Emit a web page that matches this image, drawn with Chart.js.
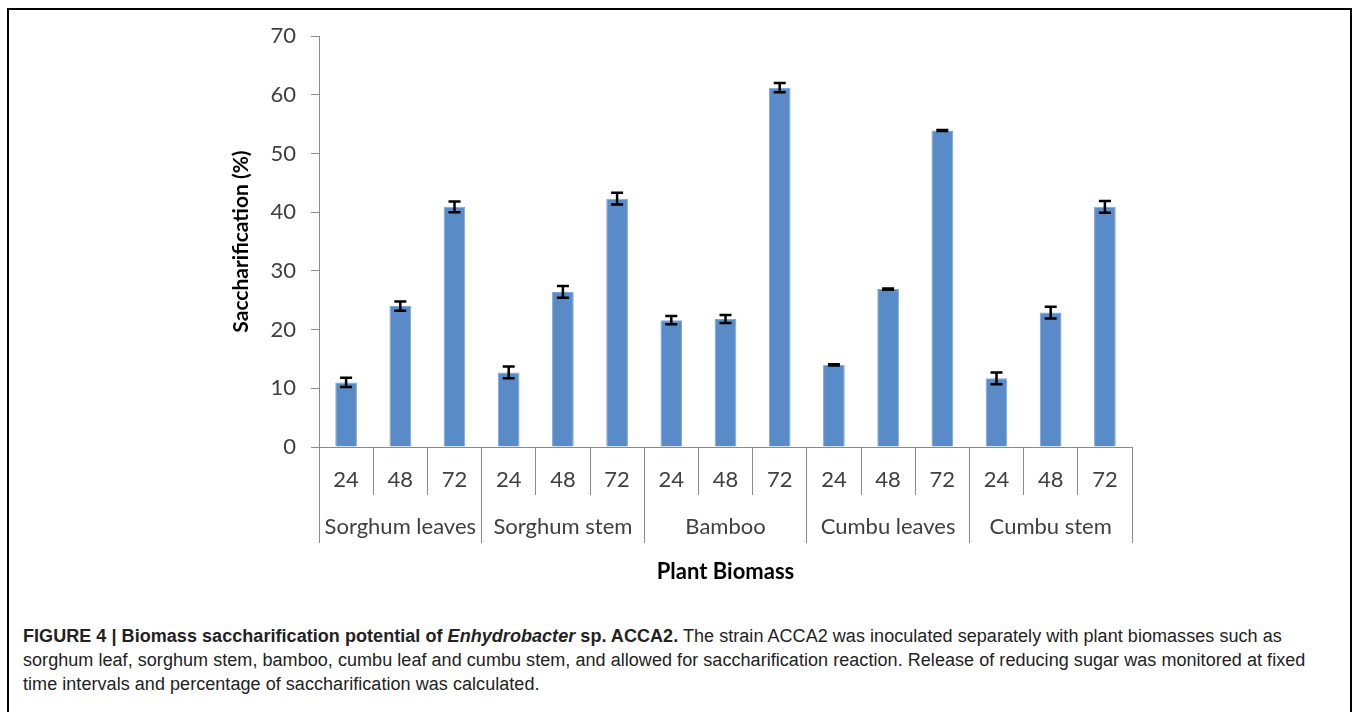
<!DOCTYPE html>
<html>
<head>
<meta charset="utf-8">
<script src="https://cdn.jsdelivr.net/npm/chart.js@4.4.0/dist/chart.umd.min.js"></script>
<style>
  html, body { margin: 0; padding: 0; background: #fff; width: 1358px; height: 712px; overflow: hidden; }
  #frame { position: absolute; left: 7px; top: 8px; width: 1345px; height: 720px; border: 2px solid #000; box-sizing: border-box; }
  #wrap { position: absolute; left: 0; top: 0; width: 1358px; height: 600px; }
  #caption { position: absolute; left: 23px; top: 624px; font-family: "Liberation Sans", Arial, sans-serif; font-size: 18px; letter-spacing: 0.05px; line-height: 24px; color: #222; white-space: nowrap; }
</style>
</head>
<body>
<div id="frame"></div>
<div id="wrap"><canvas id="biomassChart"></canvas></div>
<div id="caption"><b>FIGURE 4 | Biomass saccharification potential of <i>Enhydrobacter</i> sp. ACCA2.</b> The strain ACCA2 was inoculated separately with plant biomasses such as<br>sorghum leaf, sorghum stem, bamboo, cumbu leaf and cumbu stem, and allowed for saccharification reaction. Release of reducing sugar was monitored at fixed<br>time intervals and percentage of saccharification was calculated.</div>
<script>
const hours = ['24', '48', '72', '24', '48', '72', '24', '48', '72', '24', '48', '72', '24', '48', '72'];
const biomass = ['Sorghum leaves', 'Sorghum stem', 'Bamboo', 'Cumbu leaves', 'Cumbu stem'];
const saccharification = [11.0, 24.0, 40.9, 12.7, 26.4, 42.3, 21.6, 21.8, 61.2, 14.0, 26.9, 53.9, 11.7, 22.9, 40.9];
const errors = [0.8, 0.8, 0.9, 1.0, 1.0, 1.0, 0.7, 0.7, 0.8, 0.1, 0.1, 0.1, 1.0, 1.0, 1.0];
const yTicks = [0, 10, 20, 30, 40, 50, 60, 70];

const axisGray = '#8a8a8a';
const chartFont = 'Lato, "Open Sans", sans-serif';

// error bars drawn from the y scale
const errorBars = {
  id: 'errorBars',
  afterDatasetsDraw(chart) {
    const ctx = chart.ctx;
    const y = chart.scales.y;
    const meta = chart.getDatasetMeta(0);
    ctx.save();
    ctx.strokeStyle = '#000';
    ctx.lineWidth = 2.5;
    meta.data.forEach((bar, i) => {
      const top = y.getPixelForValue(saccharification[i] + errors[i]);
      const bot = y.getPixelForValue(saccharification[i] - errors[i]);
      const cap = 6;
      ctx.beginPath();
      ctx.moveTo(bar.x, top); ctx.lineTo(bar.x, bot);
      ctx.moveTo(bar.x - cap, top); ctx.lineTo(bar.x + cap, top);
      ctx.moveTo(bar.x - cap, bot); ctx.lineTo(bar.x + cap, bot);
      ctx.stroke();
    });
    ctx.restore();
  }
};

const biomassChart = new Chart(document.getElementById('biomassChart').getContext('2d'), {
  type: 'bar',
  data: {
    labels: hours,
    datasets: [{
      label: 'Saccharification (%)',
      data: saccharification,
      backgroundColor: '#588bc8',
      borderColor: '#7ea5d6',
      borderWidth: 1,
      barPercentage: 0.4,
      categoryPercentage: 1.0
    }]
  },
  options: {
    responsive: true,
    maintainAspectRatio: false,
    animation: false,
    layout: { padding: { left: 219, right: 226, top: 36, bottom: 0 } },
    plugins: { legend: { display: false }, tooltip: { enabled: false } },
    scales: {
      y: {
        min: 0,
        max: 70,
        afterBuildTicks(axis) { axis.ticks = yTicks.map(v => ({ value: v })); },
        afterFit(axis) { axis.width = 100; },
        ticks: { font: { family: chartFont, size: 22 }, color: '#404040', padding: 15 },
        grid: { drawOnChartArea: false, tickLength: 8, color: axisGray },
        border: { color: axisGray },
        title: {
          display: true,
          text: 'Saccharification (%)',
          font: { family: chartFont, size: 21, weight: 'bold' },
          color: '#000',
          padding: { top: 10, bottom: 0 }
        }
      },
      x: {
        afterFit(axis) { axis.height = 48; },
        ticks: { font: { family: chartFont, size: 22 }, color: '#404040', padding: -28, autoSkip: false, maxRotation: 0 },
        grid: { drawOnChartArea: false, tickLength: 48, color: axisGray, offset: true },
        border: { color: axisGray }
      },
      x2: {
        type: 'category',
        position: 'bottom',
        labels: biomass,
        afterFit(axis) { axis.height = 105; },
        ticks: { font: { family: chartFont, size: 22 }, color: '#404040', padding: -29, autoSkip: false, maxRotation: 0 },
        grid: { drawOnChartArea: false, tickLength: 48, color: axisGray, offset: true },
        border: { display: false },
        title: {
          display: true,
          text: 'Plant Biomass',
          font: { family: chartFont, size: 22, weight: 'bold' },
          color: '#000',
          padding: { top: 0, bottom: 15 }
        }
      }
    }
  },
  plugins: [errorBars]
});
</script>
</body>
</html>
